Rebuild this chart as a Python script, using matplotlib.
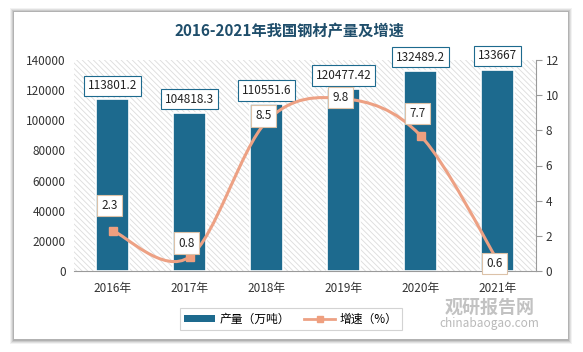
import matplotlib.pyplot as plt
import numpy as np
from matplotlib.path import Path
from matplotlib.patches import PathPatch, Rectangle, Patch
from matplotlib.lines import Line2D

plt.rcParams['font.family'] = ['Noto Sans CJK SC', 'DejaVu Sans']
plt.rcParams['hatch.linewidth'] = 0.6

# data
years = ['2016年', '2017年', '2018年', '2019年', '2020年', '2021年']
output = [113801.2, 104818.3, 110551.6, 120477.42, 132489.2, 133667]
output_labels = ['113801.2', '104818.3', '110551.6', '120477.42', '132489.2', '133667']
growth = [2.3, 0.8, 8.5, 9.8, 7.7, 0.6]

# label offsets (points) for the growth labels
line_label_dy = [18, 10, 4, 1, 16, -2]

bar_color = '#1d6a8e'
line_color = '#eda184'
marker_color = '#ef9f7f'

fig = plt.figure(figsize=(5.83, 3.52), dpi=100)
fig.patch.set_facecolor('white')

# card with soft shadow
for i, a in enumerate([0.05, 0.07, 0.09, 0.12]):
    g = 4 - i
    fig.patches.append(Rectangle(((14 - g) / 583, 1 - (340 + g) / 352), (554 + 2 * g) / 583, (328 + 2 * g) / 352,
                                 transform=fig.transFigure, facecolor='black', alpha=a, edgecolor='none', zorder=0))
fig.patches.append(Rectangle((14 / 583, 1 - 339 / 352), 554 / 583, 327 / 352,
                             transform=fig.transFigure, facecolor='white', edgecolor='none', zorder=1))

ax = fig.add_axes([74 / 583, 81 / 352, 462 / 583, 211 / 352])
ax.set_zorder(2)
ax.patch.set_alpha(0)
ax.add_patch(Rectangle((0, 0), 1, 1, transform=ax.transAxes, facecolor='none',
                       edgecolor='#dcdcdc', hatch='\\' * 6, linewidth=0, zorder=0))

x = np.arange(len(years))
ax.bar(x, output, width=0.42, color=bar_color, edgecolor='white', linewidth=1.2, zorder=2)
ax.set_xlim(-0.5, 5.5)
ax.set_ylim(0, 140000)
ax.set_yticks(np.arange(0, 140001, 20000))
ax.set_xticks(x)
ax.set_xticklabels(years)
ax.tick_params(axis='both', length=0, labelsize=8.5, colors='#333333', pad=6)
ax.tick_params(axis='x', pad=8)
for s in ['top', 'right', 'left']:
    ax.spines[s].set_visible(False)
ax.spines['bottom'].set_color('#9a9a9a')

for xi, v, lab in zip(x, output, output_labels):
    ax.annotate(lab, (xi, v), xytext=(0, 10), textcoords='offset points', ha='center', va='center',
                fontsize=8.5, color='#222222', zorder=5, annotation_clip=False,
                bbox=dict(boxstyle='square,pad=0.3', facecolor='white', edgecolor=bar_color, linewidth=0.8))

ax2 = ax.twinx()
ax2.set_ylim(0, 12)
ax2.set_yticks(np.arange(0, 13, 2))
ax2.tick_params(axis='y', length=4, labelsize=8.5, colors='#333333', pad=3)
ax2.tick_params(axis='y', color='#9a9a9a')
for s in ['top', 'left', 'bottom']:
    ax2.spines[s].set_visible(False)
ax2.spines['right'].set_color('#9a9a9a')

# smoothed line through the growth points (Catmull-Rom as bezier)
pts = np.column_stack([x, growth]).astype(float)
verts = [pts[0]]
codes = [Path.MOVETO]
n = len(pts)
for i in range(n - 1):
    p0 = pts[max(i - 1, 0)]
    p1 = pts[i]
    p2 = pts[i + 1]
    p3 = pts[min(i + 2, n - 1)]
    c1 = p1 + (p2 - p0) / 6
    c2 = p2 - (p3 - p1) / 6
    verts += [c1, c2, p2]
    codes += [Path.CURVE4] * 3
ax2.add_patch(PathPatch(Path(verts, codes), facecolor='none', edgecolor=line_color, linewidth=2.2, zorder=3))
ax2.plot(x, growth, linestyle='none', marker='s', markersize=6, color=marker_color, zorder=4)

for xi, v, dy in zip(x, growth, line_label_dy):
    ax2.annotate(f'{v}', (xi, v), xytext=(-2, dy), textcoords='offset points', ha='center', va='center',
                 fontsize=8.5, color='#222222', zorder=6,
                 bbox=dict(boxstyle='square,pad=0.35', facecolor='white', edgecolor='#dcc2a8', linewidth=0.8))

fig.text(0.497, 1 - 31 / 352, '2016-2021年我国钢材产量及增速', ha='center', va='center',
         fontsize=11, fontweight='bold', color='#1f4e6b')

handles = [Patch(facecolor=bar_color, edgecolor='none'),
           Line2D([], [], color=line_color, linewidth=2, marker='s', markersize=5, markerfacecolor=marker_color,
                  markeredgecolor=marker_color)]
leg = fig.legend(handles, ['产量（万吨）', '增速（%）'], loc='center', bbox_to_anchor=(291 / 583, 1 - 319 / 352),
                 ncol=2, fontsize=8.5, frameon=True, fancybox=False, edgecolor='#c8c8c8',
                 handlelength=2.6, handleheight=0.6, columnspacing=1.2, handletextpad=0.4, borderpad=0.4)
leg.get_frame().set_linewidth(0.8)
leg.set_zorder(5)

# watermark
fig.text(490 / 583, 1 - 307 / 352, '观研报告网', ha='center', va='center', fontsize=13,
         fontweight='bold', color='#a8a8a8', alpha=0.7, zorder=6)
fig.text(489 / 583, 1 - 324 / 352, 'chinabaogao.com', ha='center', va='center', fontsize=8.5,
         color='#a8a8a8', alpha=0.8, zorder=6)

fig.savefig('out.png', dpi=100)
